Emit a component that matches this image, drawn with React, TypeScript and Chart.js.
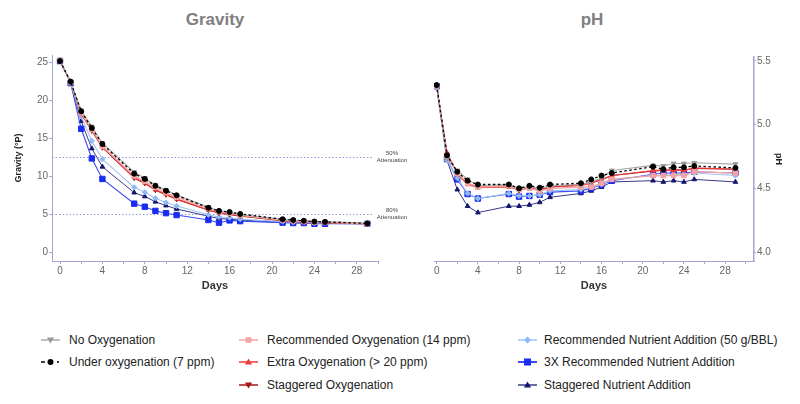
import React, { useEffect, useRef } from "react";
import { Chart, registerables } from "chart.js";
Chart.register(...registerables);

const FONT = "Arial, 'Liberation Sans', sans-serif";

// ---- data ----
const days = [0, 1, 2, 3, 4, 7, 8, 9, 10, 11, 14, 15, 16, 17, 21, 22, 23, 24, 25, 29];

const seriesNames = [
  "No Oxygenation",
  "Under oxygenation (7 ppm)",
  "Recommended Oxygenation (14 ppm)",
  "Extra Oxygenation (> 20 ppm)",
  "Staggered Oxygenation",
  "Recommended Nutrient Addition (50 g/BBL)",
  "3X Recommended Nutrient Addition",
  "Staggered Nutrient Addition",
];

const gravityNoOx = [25.4, 22.3, 18.7, 16.6, 14.4, 10.6, 9.8, 8.9, 8.2, 7.6, 6.0, 5.5, 5.3, 5.0, 4.4, 4.3, 4.2, 4.1, 4.1, 3.9];
const gravityUnderOx = [25.2, 22.5, 18.6, 16.4, 14.3, 10.4, 9.7, 8.8, 8.15, 7.55, 5.9, 5.5, 5.35, 5.1, 4.4, 4.3, 4.2, 4.1, 4.05, 3.85];
const gravityRecOx = [25.3, 22.4, 18.4, 16.2, 14.0, 10.1, 9.4, 8.6, 7.9, 7.3, 5.8, 5.4, 5.2, 4.9, 4.3, 4.2, 4.1, 4.0, 4.0, 3.8];
const gravityExtraOx = [25.2, 22.5, 18.2, 16.1, 13.9, 9.9, 9.2, 8.3, 7.7, 7.1, 5.6, 5.3, 5.1, 4.9, 4.3, 4.2, 4.1, 4.0, 4.0, 3.8];
const gravityStagOx = [25.2, 22.5, 18.3, 16.0, 13.8, 9.8, 9.1, 8.2, 7.6, 7.0, 5.6, 5.2, 5.0, 4.8, 4.2, 4.1, 4.0, 4.0, 3.9, 3.8];
const gravityRecNut = [25.3, 22.3, 17.9, 14.7, 12.3, 8.6, 7.95, 7.15, 6.6, 6.15, 5.0, 4.7, 4.6, 4.4, 4.1, 4.0, 4.0, 3.9, 3.9, 3.8];
const gravity3xNut = [25.2, 22.3, 16.3, 12.4, 9.7, 6.45, 6.05, 5.5, 5.2, 4.95, 4.3, 3.95, 4.25, 4.15, 3.95, 3.9, 3.9, 3.8, 3.8, 3.8];
const gravityStagNut = [25.2, 22.4, 17.3, 13.7, 11.3, 7.9, 7.4, 6.7, 6.2, 5.75, 4.8, 4.5, 4.4, 4.3, 4.0, 3.95, 3.9, 3.9, 3.85, 3.8];

const phNoOx = [5.30, 4.73, 4.64, 4.57, 4.52, 4.53, 4.50, 4.51, 4.50, 4.52, 4.53, 4.55, 4.58, 4.64, 4.68, 4.675, 4.695, 4.695, 4.70, 4.69];
const phUnderOx = [5.31, 4.76, 4.63, 4.56, 4.53, 4.53, 4.50, 4.52, 4.505, 4.53, 4.54, 4.57, 4.60, 4.62, 4.67, 4.65, 4.665, 4.665, 4.675, 4.66];
const phRecOx = [5.30, 4.75, 4.62, 4.54, 4.51, 4.52, 4.49, 4.50, 4.48, 4.50, 4.51, 4.51, 4.54, 4.57, 4.60, 4.60, 4.60, 4.60, 4.63, 4.62];
const phExtraOx = [5.30, 4.78, 4.61, 4.53, 4.505, 4.51, 4.49, 4.50, 4.49, 4.51, 4.52, 4.54, 4.565, 4.60, 4.64, 4.645, 4.64, 4.64, 4.66, 4.65];
const phStagOx = [5.30, 4.77, 4.62, 4.54, 4.51, 4.52, 4.48, 4.51, 4.48, 4.51, 4.53, 4.55, 4.57, 4.60, 4.635, 4.64, 4.645, 4.645, 4.655, 4.65];
const phRecNut = [5.30, 4.72, 4.58, 4.46, 4.42, 4.46, 4.44, 4.44, 4.45, 4.48, 4.49, 4.51, 4.53, 4.57, 4.60, 4.60, 4.61, 4.61, 4.62, 4.60];
const ph3xNut = [5.30, 4.73, 4.57, 4.455, 4.42, 4.455, 4.435, 4.44, 4.45, 4.47, 4.48, 4.50, 4.53, 4.56, 4.61, 4.62, 4.62, 4.62, 4.63, 4.62];
const phStagNut = [5.30, 4.72, 4.49, 4.36, 4.31, 4.36, 4.36, 4.37, 4.39, 4.43, 4.46, 4.48, 4.51, 4.55, 4.56, 4.55, 4.56, 4.55, 4.57, 4.55];

const gravityTicks = [0, 5, 10, 15, 20, 25];
const phTicks = [4.0, 4.5, 5.0, 5.5];
const dayTicks = [0, 2, 4, 6, 8, 10, 12, 14, 16, 18, 20, 22, 24, 26, 28, 30];
const attenuationLevels = [12.65, 5.06];
const attenuationLabels = ["50%", "80%"];

// ---- styles ----
type Style = { color: string; line: string; shape: string; rot: number; r: number; w: number; dash: number[]; order: number };
const styles: Style[] = [
  { color: "#9a9a9a", line: "#a8a8a8", shape: "triangle", rot: 180, r: 2.8, w: 1.1, dash: [], order: 1 },
  { color: "#000000", line: "#000000", shape: "circle", rot: 0, r: 2.5, w: 1.3, dash: [2.5, 2.5], order: 0 },
  { color: "#f5a3a3", line: "#f5a3a3", shape: "rect", rot: 0, r: 3.2, w: 1.3, dash: [], order: 2 },
  { color: "#ee3b3b", line: "#ee3b3b", shape: "triangle", rot: 0, r: 2.6, w: 1.1, dash: [], order: 3 },
  { color: "#a51616", line: "#a51616", shape: "triangle", rot: 180, r: 2.4, w: 1.0, dash: [], order: 4 },
  { color: "#8fbaf3", line: "#9ec3f5", shape: "rectRot", rot: 0, r: 2.6, w: 1.1, dash: [], order: 5 },
  { color: "#1a2cf2", line: "#3a4cf2", shape: "rect", rot: 0, r: 3.8, w: 1.1, dash: [], order: 6 },
  { color: "#14146e", line: "#3a3a88", shape: "triangle", rot: 0, r: 2.7, w: 1.0, dash: [], order: 7 },
];

const gravitySeries = [gravityNoOx, gravityUnderOx, gravityRecOx, gravityExtraOx, gravityStagOx, gravityRecNut, gravity3xNut, gravityStagNut];
const phSeries = [phNoOx, phUnderOx, phRecOx, phExtraOx, phStagOx, phRecNut, ph3xNut, phStagNut];

const AXIS = "#a3a5d3";
const TICK = "#666666";

function makeDatasets(list: number[][]) {
  return list.map((vals, i) => {
    const s = styles[i];
    return {
      label: seriesNames[i],
      data: days.map((d, j) => ({ x: d, y: vals[j] })),
      borderColor: s.line,
      backgroundColor: s.color,
      pointBackgroundColor: s.color,
      pointBorderColor: s.color,
      pointStyle: s.shape,
      pointRotation: s.rot,
      pointRadius: s.r,
      pointBorderWidth: 1,
      borderWidth: s.w,
      borderDash: s.dash,
      tension: 0,
      fill: false,
      order: s.order,
    };
  });
}

const attenuationPlugin = {
  id: "attenuation",
  beforeDatasetsDraw(chart: any) {
    const { ctx, chartArea, scales } = chart;
    ctx.save();
    attenuationLevels.forEach((v, i) => {
      const y = Math.round(scales.y.getPixelForValue(v)) + 0.5;
      ctx.strokeStyle = "#9494d6";
      ctx.lineWidth = 1;
      ctx.setLineDash([1.5, 2]);
      ctx.beginPath();
      ctx.moveTo(chartArea.left, y);
      ctx.lineTo(chartArea.right - 6, y);
      ctx.stroke();
      ctx.setLineDash([]);
      ctx.fillStyle = "#444";
      ctx.font = `6px ${FONT}`;
      ctx.textAlign = "center";
      ctx.textBaseline = "middle";
      ctx.fillText(attenuationLabels[i], chartArea.right + 14, y - 4);
      ctx.fillText("Attenuation", chartArea.right + 14, y + 3);
    });
    ctx.restore();
  },
};

function xScale(min: number, max: number) {
  return {
    type: "linear",
    min,
    max,
    afterBuildTicks: (s: any) => {
      s.ticks = dayTicks.map((v) => ({ value: v }));
    },
    afterFit: (s: any) => {
      s.height = 39;
    },
    ticks: {
      autoSkip: false,
      maxRotation: 0,
      color: TICK,
      padding: 1,
      font: { size: 10, family: FONT },
      callback: (v: number) => (v % 4 === 0 ? String(v) : ""),
    },
    grid: { drawOnChartArea: false, drawTicks: true, tickLength: 3, tickColor: AXIS, color: AXIS },
    border: { color: AXIS, width: 1 },
    title: {
      display: true,
      text: "Days",
      color: "#333",
      font: { size: 11, weight: "bold", family: FONT },
      padding: { top: 0, bottom: 7 },
    },
  };
}

export default function App() {
  const gRef = useRef<HTMLCanvasElement>(null);
  const pRef = useRef<HTMLCanvasElement>(null);

  useEffect(() => {
    Chart.defaults.font.family = FONT;
    const g = new Chart(gRef.current as HTMLCanvasElement, {
      type: "line",
      data: { datasets: makeDatasets(gravitySeries) as any },
      plugins: [attenuationPlugin],
      options: {
        responsive: false,
        animation: false,
        layout: { padding: { left: 0, right: 42, top: 55, bottom: 0 } },
        plugins: { legend: { display: false }, tooltip: { enabled: false } },
        scales: {
          x: xScale(-0.755, 30) as any,
          y: {
            type: "linear",
            min: -1.09,
            max: 26,
            afterBuildTicks: (s: any) => {
              s.ticks = gravityTicks.map((v) => ({ value: v }));
            },
            afterFit: (s: any) => {
              s.width = 52;
            },
            ticks: { color: TICK, padding: 1, font: { size: 10, family: FONT } },
            grid: { drawOnChartArea: false, drawTicks: true, tickLength: 3, tickColor: AXIS, color: AXIS },
            border: { color: AXIS, width: 1 },
            title: {
              display: true,
              text: "Gravity (°P)",
              color: "#222",
              font: { size: 9, weight: "bold", family: FONT },
              padding: { top: 13, bottom: 0 },
            },
          } as any,
        },
      },
    });

    const p = new Chart(pRef.current as HTMLCanvasElement, {
      type: "line",
      data: { datasets: makeDatasets(phSeries) as any },
      options: {
        responsive: false,
        animation: false,
        layout: { padding: { left: 14, right: 0, top: 57, bottom: 0 } },
        plugins: { legend: { display: false }, tooltip: { enabled: false } },
        scales: {
          x: xScale(-0.26, 30.8) as any,
          y: {
            type: "linear",
            position: "right",
            min: 3.93,
            max: 5.53,
            afterBuildTicks: (s: any) => {
              s.ticks = phTicks.map((v) => ({ value: v }));
            },
            afterFit: (s: any) => {
              s.width = 46;
            },
            ticks: {
              color: TICK,
              padding: 1,
              font: { size: 10, family: FONT },
              callback: (v: number) => v.toFixed(1),
            },
            grid: { drawOnChartArea: false, drawTicks: true, tickLength: 2, tickColor: AXIS, color: AXIS },
            border: { color: AXIS, width: 1.5 },
            title: {
              display: true,
              text: "pH",
              color: "#222",
              font: { size: 9, weight: "bold", family: FONT },
              padding: { top: 16, bottom: 0 },
            },
          } as any,
        },
      },
    });
    return () => {
      g.destroy();
      p.destroy();
    };
  }, []);

  const legendCols = [
    { iconX: 41, textX: 69, items: [0, 1] },
    { iconX: 239, textX: 267, items: [2, 3, 4] },
    { iconX: 518, textX: 544, items: [5, 6, 7] },
  ];
  const rowY = [339.5, 362.3, 385];

  return (
    <div style={{ position: "absolute", left: 0, top: 0, width: 800, height: 404, background: "#fff", fontFamily: FONT }}>
      <div style={{ position: "absolute", left: 115, width: 200, top: 10, textAlign: "center", fontSize: 17, fontWeight: "bold", color: "#808080", lineHeight: "20px" }}>Gravity</div>
      <div style={{ position: "absolute", left: 492, width: 200, top: 10, textAlign: "center", fontSize: 17, fontWeight: "bold", color: "#808080", lineHeight: "20px" }}>pH</div>
      <canvas ref={gRef} width={420} height={300} style={{ position: "absolute", left: 0, top: 0 }} />
      <canvas ref={pRef} width={380} height={300} style={{ position: "absolute", left: 420, top: 0 }} />
      {legendCols.map((col) =>
        col.items.map((idx, r) => (
          <React.Fragment key={idx}>
            <LegendIcon idx={idx} left={col.iconX} top={rowY[r] - 6} />
            <div style={{ position: "absolute", left: col.textX, top: rowY[r] - 8, fontSize: 12, lineHeight: "16px", color: "#222", whiteSpace: "nowrap" }}>
              {seriesNames[idx]}
            </div>
          </React.Fragment>
        ))
      )}
    </div>
  );
}

function LegendIcon({ idx, left, top }: { idx: number; left: number; top: number }) {
  const s = styles[idx];
  const cx = 9.5;
  const cy = 6;
  const big = idx === 6;
  const m = big ? 3.5 : 2.8;
  let marker: any = null;
  if (s.shape === "circle") marker = <circle cx={cx} cy={cy} r={3} fill={s.color} />;
  else if (s.shape === "rect") marker = <rect x={cx - m} y={cy - m} width={2 * m} height={2 * m} fill={s.color} />;
  else if (s.shape === "rectRot") marker = <polygon points={`${cx},${cy - 3.5} ${cx + 3.5},${cy} ${cx},${cy + 3.5} ${cx - 3.5},${cy}`} fill={s.color} />;
  else if (s.shape === "triangle" && s.rot === 180) marker = <polygon points={`${cx - 3.6},${cy - 2.6} ${cx + 3.6},${cy - 2.6} ${cx},${cy + 3.4}`} fill={s.color} />;
  else marker = <polygon points={`${cx - 3.6},${cy + 2.6} ${cx + 3.6},${cy + 2.6} ${cx},${cy - 3.4}`} fill={s.color} />;
  return (
    <svg width={20} height={12} style={{ position: "absolute", left, top }}>
      {s.dash.length ? (
        <g stroke={s.line} strokeWidth={1.5}>
          <line x1={0} y1={cy} x2={4} y2={cy} />
          <line x1={16} y1={cy} x2={18} y2={cy} />
        </g>
      ) : (
        <line x1={0} y1={cy} x2={19} y2={cy} stroke={s.line} strokeWidth={big ? 2 : 1.5} />
      )}
      {marker}
    </svg>
  );
}
